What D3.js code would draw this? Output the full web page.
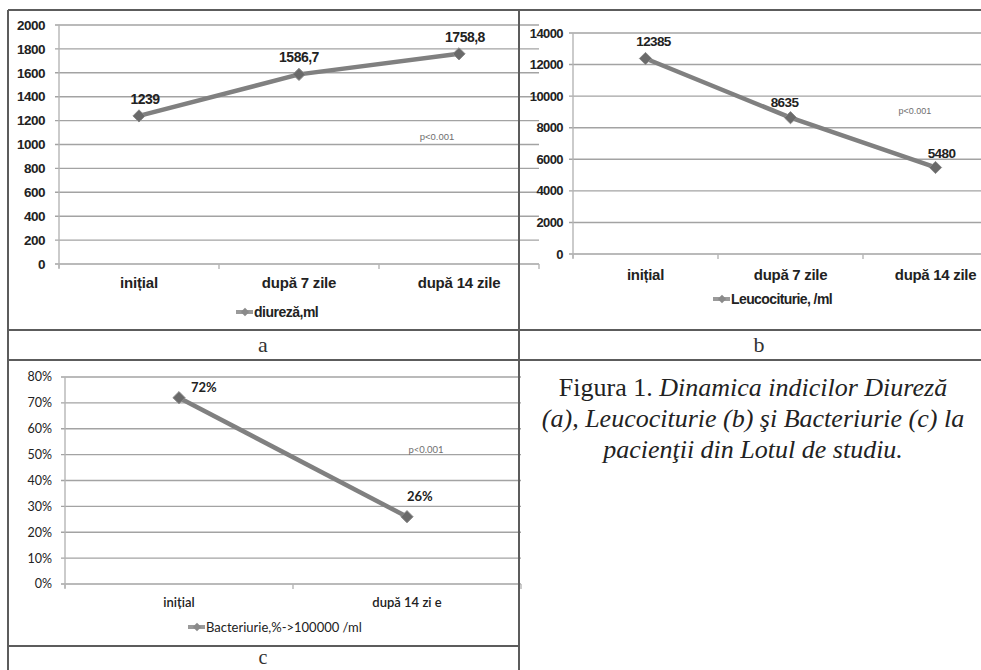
<!DOCTYPE html>
<html>
<head>
<meta charset="utf-8">
<script src="https://cdn.jsdelivr.net/npm/d3@7/dist/d3.min.js"></script>
<style>
  html, body { margin: 0; padding: 0; background: #fff; }
  svg { display: block; }
</style>
</head>
<body>
<svg id="fig" width="981" height="670"></svg>
<script>
// Panel (a): diuresis
const catsA = ["inițial", "după 7 zile", "după 14 zile"];
const diureza = [1239, 1586.7, 1758.8];
const labelsA = ["1239", "1586,7", "1758,8"];
const ticksA = [0, 200, 400, 600, 800, 1000, 1200, 1400, 1600, 1800, 2000];

// Panel (b): leukocyturia
const catsB = ["inițial", "după 7 zile", "după 14 zile"];
const leuco = [12385, 8635, 5480];
const labelsB = ["12385", "8635", "5480"];
const ticksB = [0, 2000, 4000, 6000, 8000, 10000, 12000, 14000];

// Panel (c): bacteriuria
const catsC = ["inițial", "după 14 zi e"];
const bacter = [72, 26];
const labelsC = ["72%", "26%"];
const ticksC = [0, 10, 20, 30, 40, 50, 60, 70, 80];

const svg = d3.select("#fig");
const gGrid = svg.append("g");
const gBorder = svg.append("g");
const gMarks = svg.append("g");

const GRID = "#a3a3a3", AXIS = "#b5b5b5", LINE = "#808080", MARK = "#6a6a6a", INK = "#222";

function panel(o) {
  const x = d3.scaleBand().domain(o.cats).range([o.x0, o.x1]);
  const cx = d => x(d) + x.bandwidth() / 2;
  const y = d3.scaleLinear().domain(o.domain).range([o.yBot, o.yTop]);

  // gridlines
  gGrid.selectAll(null).data(o.ticks).enter().append("line")
    .attr("x1", o.x0 - 4).attr("x2", o.x1)
    .attr("y1", d => y(d)).attr("y2", d => y(d))
    .attr("stroke", GRID).attr("stroke-width", 1.4);
  // vertical axis
  gGrid.append("line").attr("x1", o.x0).attr("x2", o.x0)
    .attr("y1", y(o.domain[1])).attr("y2", o.yBot + 4)
    .attr("stroke", AXIS).attr("stroke-width", 1.4);
  // category boundary ticks
  const bounds = o.cats.map(c => x(c)).concat([o.x1]);
  gGrid.selectAll(null).data(bounds).enter().append("line")
    .attr("x1", d => d).attr("x2", d => d)
    .attr("y1", o.yBot).attr("y2", o.yBot + 5)
    .attr("stroke", AXIS).attr("stroke-width", 1.4);

  // y tick labels
  gMarks.selectAll(null).data(o.ticks).enter().append("text")
    .attr("x", o.x0 - o.tickGap).attr("y", d => y(d))
    .attr("dy", "0.35em").attr("text-anchor", "end")
    .style("font", o.tickFont).style("letter-spacing", o.spacing)
    .attr("fill", INK).text(o.tickFmt);
  // category labels
  gMarks.selectAll(null).data(o.cats).enter().append("text")
    .attr("x", d => cx(d)).attr("y", o.catY)
    .attr("text-anchor", "middle")
    .style("font", o.catFont).style("letter-spacing", o.catSpacing)
    .attr("fill", INK).text(d => d);

  // series line
  const pts = o.cats.map((c, i) => [cx(c), y(o.values[i])]);
  gMarks.append("path").attr("d", d3.line()(pts))
    .attr("fill", "none").attr("stroke", LINE).attr("stroke-width", 4.5)
    .attr("stroke-linejoin", "round");
  const sym = d3.symbol().type(d3.symbolDiamond2).size(95);
  gMarks.selectAll(null).data(pts).enter().append("path")
    .attr("d", sym).attr("transform", d => `translate(${d[0]},${d[1]})`)
    .attr("fill", MARK).attr("stroke", "#8a8a8a").attr("stroke-width", 1);

  // data labels
  gMarks.selectAll(null).data(pts).enter().append("text")
    .attr("x", (d, i) => d[0] + o.lblDx[i]).attr("y", (d, i) => d[1] + o.lblDy[i])
    .attr("text-anchor", o.lblAnchor)
    .style("font", o.lblFont).style("letter-spacing", o.spacing)
    .attr("fill", INK).text((d, i) => o.labels[i]);

  // significance note
  gMarks.append("text").attr("x", o.pX).attr("y", o.pY)
    .attr("text-anchor", "middle").style("font", o.pFont)
    .attr("fill", "#6f6f6f").text("p<0.001");

  // legend
  const lx = o.legX, ly = o.legY;
  gMarks.append("line").attr("x1", lx).attr("x2", lx + 17)
    .attr("y1", ly).attr("y2", ly).attr("stroke", "#9a9a9a").attr("stroke-width", 4);
  gMarks.append("path").attr("d", d3.symbol().type(d3.symbolDiamond2).size(45))
    .attr("transform", `translate(${lx + 9},${ly})`).attr("fill", "#8a8a8a");
  gMarks.append("text").attr("x", lx + 18).attr("y", ly).attr("dy", "0.35em")
    .style("font", o.legFont).style("letter-spacing", o.spacing)
    .attr("fill", INK).text(o.legend);
}

const boldSans = "bold 14px 'Liberation Sans', Arial, sans-serif";
const catSans = "bold 15px 'Liberation Sans', Arial, sans-serif";

panel({
  cats: catsA, values: diureza, labels: labelsA, ticks: ticksA, domain: [0, 2000],
  x0: 59, x1: 539, yTop: 25, yBot: 264, tickGap: 14, tickFmt: d => d,
  tickFont: "bold 13.5px 'Liberation Sans', Arial, sans-serif", catFont: catSans,
  catY: 288, spacing: "-0.5px", catSpacing: "-0.2px",
  lblFont: "bold 14px 'Liberation Sans', Arial, sans-serif", lblAnchor: "middle",
  lblDx: [6, 0, 6], lblDy: [-12, -12, -12],
  pX: 437, pY: 140, pFont: "9.5px 'Liberation Sans', Arial, sans-serif",
  legX: 236, legY: 312, legend: "diureză,ml", legFont: boldSans
});

panel({
  cats: catsB, values: leuco, labels: labelsB, ticks: ticksB, domain: [0, 14000],
  x0: 573, x1: 1008, yTop: 33, yBot: 254, tickGap: 10, tickFmt: d => d,
  tickFont: "bold 13px 'Liberation Sans', Arial, sans-serif", catFont: catSans,
  catY: 280, spacing: "-0.6px", catSpacing: "-0.3px",
  lblFont: "bold 13.5px 'Liberation Sans', Arial, sans-serif", lblAnchor: "middle",
  lblDx: [8, -6, 6], lblDy: [-12, -11, -9],
  pX: 915, pY: 114, pFont: "9px 'Liberation Sans', Arial, sans-serif",
  legX: 713, legY: 299, legend: "Leucociturie, /ml", legFont: boldSans
});

panel({
  cats: catsC, values: bacter, labels: labelsC, ticks: ticksC, domain: [0, 80],
  x0: 65, x1: 521, yTop: 377, yBot: 584, tickGap: 13, tickFmt: d => d + "%",
  tickFont: "12.5px Lato, 'Open Sans', sans-serif",
  catFont: "600 13px Lato, 'Open Sans', sans-serif",
  catY: 607, spacing: "0px", catSpacing: "0px",
  lblFont: "bold 13px Lato, 'Open Sans', sans-serif", lblAnchor: "start",
  lblDx: [12, 0], lblDy: [-6, -16],
  pX: 426, pY: 453, pFont: "9.5px Lato, 'Open Sans', sans-serif",
  legX: 188, legY: 627, legend: "Bacteriurie,%->100000 /ml",
  legFont: "13px Lato, 'Open Sans', sans-serif"
});

// table frame
const BORDER = "#5c5c5c";
const rules = [
  [8, 10, 8, 670], [8, 10, 981, 10], [519, 10, 519, 670],
  [8, 330, 981, 330], [8, 360, 981, 360], [8, 646, 519, 646]
];
gBorder.selectAll(null).data(rules).enter().append("line")
  .attr("x1", d => d[0]).attr("y1", d => d[1]).attr("x2", d => d[2]).attr("y2", d => d[3])
  .attr("stroke", BORDER).attr("stroke-width", 2);

// panel letters
const letters = [["a", 263, 352, 22], ["b", 759, 352, 22], ["c", 263, 664, 20]];
svg.selectAll(null).data(letters).enter().append("text")
  .attr("x", d => d[1]).attr("y", d => d[2]).attr("text-anchor", "middle")
  .style("font-family", "'Liberation Serif', 'Times New Roman', serif")
  .style("font-size", d => d[3] + "px")
  .attr("fill", "#333").text(d => d[0]);

// figure caption
const cap = svg.append("text").attr("text-anchor", "middle")
  .style("font", "26px 'Liberation Serif', 'Times New Roman', serif").attr("fill", "#222");
const l1 = cap.append("tspan").attr("x", 753).attr("y", 396);
l1.append("tspan").text("Figura 1. ");
l1.append("tspan").style("font-style", "italic").text("Dinamica indicilor Diureză");
cap.append("tspan").attr("x", 753).attr("y", 427).style("font-style", "italic")
  .text("(a), Leucociturie (b) şi Bacteriurie (c) la");
cap.append("tspan").attr("x", 753).attr("y", 458).style("font-style", "italic")
  .text("pacienţii din Lotul de studiu.");
</script>
</body>
</html>
